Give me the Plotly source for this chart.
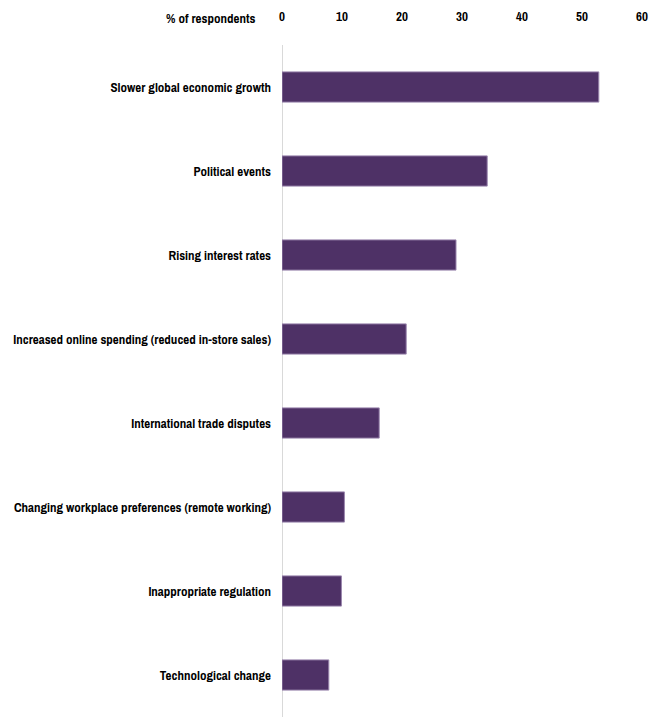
import plotly.graph_objects as go

categories = [
    "Slower global economic growth",
    "Political events",
    "Rising interest rates",
    "Increased online spending (reduced in-store sales)",
    "International trade disputes",
    "Changing workplace preferences (remote working)",
    "Inappropriate regulation",
    "Technological change",
]
values = [52.8, 34.2, 29.0, 20.7, 16.2, 10.4, 9.9, 7.8]
tick_vals = [0, 10, 20, 30, 40, 50, 60]
axis_title = "% of respondents"

FONT = "Archivo Narrow, Liberation Sans Narrow, Arial Narrow, Liberation Sans, sans-serif"
FS = 13

W, H = 663, 717
ML, MR, MT, MB = 282, 21, 45, 0

fig = go.Figure(
    go.Bar(
        x=values,
        y=categories,
        orientation="h",
        marker=dict(color="#4e3166", line=dict(color="#9a86ad", width=1)),
        width=0.36,
    )
)

fig.update_layout(
    width=W,
    height=H,
    margin=dict(l=ML, r=MR, t=MT, b=MB, autoexpand=False),
    paper_bgcolor="white",
    plot_bgcolor="white",
    showlegend=False,
    font=dict(family=FONT, size=FS, color="#000000"),
    xaxis=dict(
        side="top",
        range=[0, 60],
        tickvals=tick_vals,
        showgrid=False,
        zeroline=True,
        zerolinecolor="#d9d9d9",
        zerolinewidth=1,
        showline=False,
        ticks="",
        ticklabelstandoff=20,
        automargin=False,
        tickfont=dict(family=FONT, size=FS, color="#000000", weight="bold"),
        fixedrange=True,
    ),
    yaxis=dict(
        autorange="reversed",
        showgrid=False,
        showline=False,
        zeroline=False,
        ticks="",
        ticklabelstandoff=10,
        automargin=False,
        tickfont=dict(family=FONT, size=FS, color="#000000", weight="bold"),
    ),
)

plot_w = W - ML - MR
plot_h = H - MT - MB
fig.add_annotation(
    text=axis_title,
    x=(258 - ML) / plot_w,
    y=(H - 18 - MB) / plot_h,
    xref="paper", yref="paper",
    xanchor="right", yanchor="middle",
    showarrow=False,
    font=dict(family=FONT, size=FS, color="#000000", weight="bold"),
)

fig.write_html("out.html")
